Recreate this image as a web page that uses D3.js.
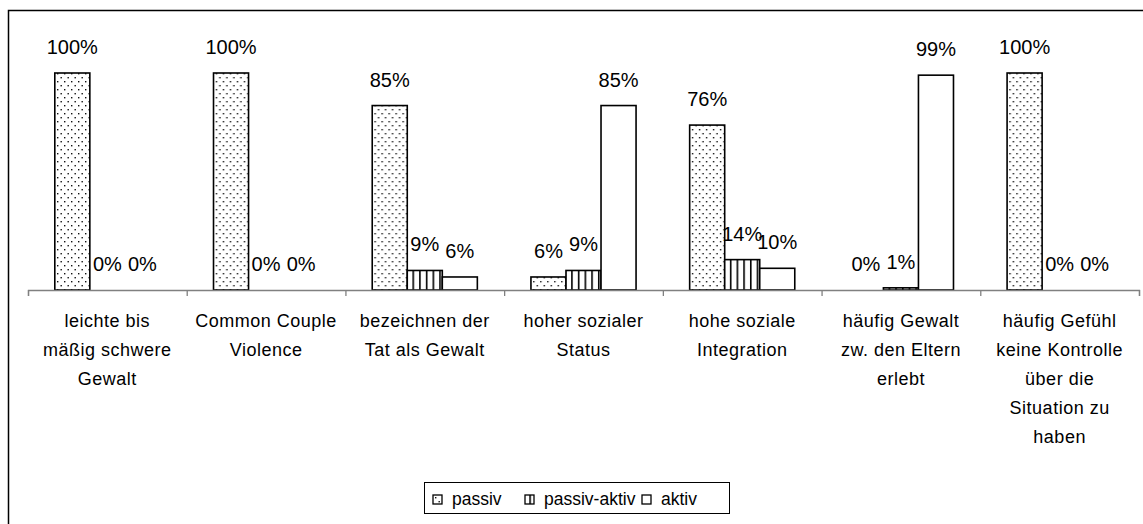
<!DOCTYPE html>
<html><head><meta charset="utf-8">
<script src="https://cdn.jsdelivr.net/npm/d3@7"></script>
<style>body{margin:0;background:#fff}svg{display:block;font-family:"Liberation Sans",Arial,sans-serif}</style>
</head><body><svg id="c" width="1143" height="524"></svg>
<script>
const categories = [
  ["leichte bis","mäßig schwere","Gewalt"],
  ["Common Couple","Violence"],
  ["bezeichnen der","Tat als Gewalt"],
  ["hoher sozialer","Status"],
  ["hohe soziale","Integration"],
  ["häufig Gewalt","zw. den Eltern","erlebt"],
  ["häufig Gefühl","keine Kontrolle","über die","Situation zu","haben"]
];
const seriesNames = ["passiv","passiv-aktiv","aktiv"];
const passiv = [100,100,85,6,76,0,100];
const passivAktiv = [0,0,9,9,14,1,0];
const aktiv = [0,0,6,85,10,99,0];
const seriesValues = [passiv, passivAktiv, aktiv];
const fills = ["url(#dots)","url(#stripes)","#fff"];

const svg = d3.select("#c");
const defs = svg.append("defs");
const pd = defs.append("pattern").attr("id","dots").attr("patternUnits","userSpaceOnUse").attr("width",7).attr("height",8);
pd.append("rect").attr("width",7).attr("height",8).attr("fill","#fff");
pd.append("rect").attr("x",1).attr("y",1).attr("width",1.4).attr("height",1.4).attr("fill","#111");
pd.append("rect").attr("x",4.5).attr("y",5).attr("width",1.4).attr("height",1.4).attr("fill","#111");
const ps = defs.append("pattern").attr("id","stripes").attr("patternUnits","userSpaceOnUse").attr("width",6.7).attr("height",4);
ps.append("rect").attr("width",6.7).attr("height",4).attr("fill","#fff");
ps.append("rect").attr("x",0).attr("y",0).attr("width",1.6).attr("height",4).attr("fill","#000");

// outer border (cropped)
svg.append("rect").attr("x",8.5).attr("y",10.5).attr("width",1300).attr("height",700)
  .attr("fill","none").attr("stroke","#000").attr("stroke-width",1.5);

const x0 = d3.scaleBand().domain(d3.range(categories.length)).range([28,1139]).padding(0);
const x1 = d3.scaleBand().domain(seriesNames).range([26.8, x0.bandwidth()-26.8]).padding(0);
const y = d3.scaleLinear().domain([0,100]).range([290,73]);

const groups = svg.append("g").selectAll("g").data(categories).join("g")
  .attr("transform",(d,i)=>`translate(${x0(i)},0)`);

groups.each(function(c,i){
  const g = d3.select(this);
  seriesNames.forEach((s,k)=>{
    const v = seriesValues[k][i];
    g.append("rect").attr("x",x1(s)).attr("y",y(v)).attr("width",x1.bandwidth()).attr("height",y(0)-y(v))
      .attr("fill",fills[k]).attr("stroke","#000").attr("stroke-width",1.6);
    g.append("text").attr("x",x1(s)+x1.bandwidth()/2).attr("y",y(v)-19).attr("text-anchor","middle")
      .attr("font-size",20).attr("fill","#000").text(v+"%");
  });
});

// axis
const axis = d3.axisBottom(d3.scaleLinear().domain([0,categories.length]).range([28,1139]))
  .tickValues(d3.range(categories.length+1)).tickSize(6).tickFormat("");
const ag = svg.append("g").attr("transform","translate(0,290)").call(axis);
ag.selectAll("path,line").attr("stroke","#808080").attr("stroke-width",1.3);

// category labels
groups.each(function(c,i){
  const t = d3.select(this).append("text").attr("text-anchor","middle").attr("font-size",18)
    .attr("letter-spacing",0.5).attr("fill","#000");
  c.forEach((line,j)=>{
    t.append("tspan").attr("x",x0.bandwidth()/2).attr("y",327+j*29).text(line);
  });
});

// legend
const lg = svg.append("g");
lg.append("rect").attr("x",424.5).attr("y",482.5).attr("width",305).attr("height",31).attr("fill","#fff").attr("stroke","#000").attr("stroke-width",1);
const lx = [433,525,642];
seriesNames.forEach((s,k)=>{
  lg.append("rect").attr("x",lx[k]).attr("y",495).attr("width",9).attr("height",9)
    .attr("fill",fills[k]).attr("stroke","#000").attr("stroke-width",1.3);
  lg.append("text").attr("x",lx[k]+19).attr("y",505).attr("font-size",17.5).attr("fill","#000").text(s);
});
</script></body></html>
